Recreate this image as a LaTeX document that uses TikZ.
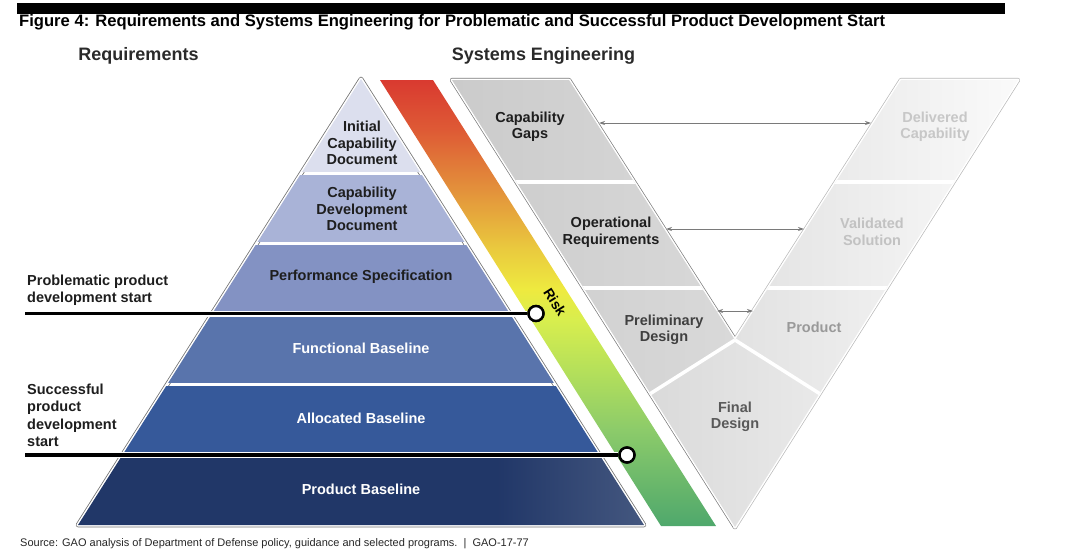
\documentclass[tikz,border=0pt]{standalone}
\usepackage{fontspec}
\setmainfont{Liberation Sans}
\usetikzlibrary{arrows.meta,calc}
\definecolor{lay1}{HTML}{DCDFEE}
\definecolor{lay2}{HTML}{A9B3D7}
\definecolor{lay3}{HTML}{8392C3}
\definecolor{lay4}{HTML}{5974AC}
\definecolor{lay5}{HTML}{36599A}
\definecolor{lay6}{HTML}{213768}
\definecolor{lay6r}{HTML}{44577F}
\definecolor{rk1}{HTML}{4FA86C}
\definecolor{rk2}{HTML}{8CCB6A}
\definecolor{rk3}{HTML}{B5E05A}
\definecolor{rk4}{HTML}{D8EE4E}
\definecolor{rk5}{HTML}{EEEA3F}
\definecolor{rk6}{HTML}{EACB3E}
\definecolor{rk7}{HTML}{E3913B}
\definecolor{rk8}{HTML}{DE5A35}
\definecolor{rk9}{HTML}{D93A30}
\definecolor{armL}{HTML}{CBCBCB}
\definecolor{armLr}{HTML}{D9D9D9}
\definecolor{armR}{HTML}{E2E2E2}
\definecolor{armRr}{HTML}{FAFAFA}
\definecolor{dia}{HTML}{DADADA}
\definecolor{diar}{HTML}{E9E9E9}
\definecolor{darktxt}{HTML}{1E1E1E}
\definecolor{headtxt}{HTML}{2A2A2A}
\pgfdeclareverticalshading{riskshade}{100bp}{color(0bp)=(rk1); color(25bp)=(rk1); color(35.8bp)=(rk2); color(42.5bp)=(rk3); color(48.1bp)=(rk4); color(51.5bp)=(rk5); color(55.9bp)=(rk6); color(62.7bp)=(rk7); color(69.4bp)=(rk8); color(75bp)=(rk9); color(100bp)=(rk9)}
\pgfdeclarehorizontalshading{baseshade}{100bp}{color(0bp)=(lay6); color(25bp)=(lay6); color(62bp)=(lay6); color(75bp)=(lay6r); color(100bp)=(lay6r)}
\begin{document}
\begin{tikzpicture}[x=1pt,y=-1pt,
  lbl/.style={font=\fontsize{14.5}{16.5}\selectfont\bfseries, align=center, inner sep=0pt},
  sidelbl/.style={font=\fontsize{14.5}{17.5}\selectfont\bfseries, align=left, inner sep=0pt, anchor=west, text=darktxt},
  head/.style={font=\fontsize{18}{20}\selectfont\bfseries, inner sep=0pt, text=headtxt},
  startline/.style={line width=3.4pt, black},
  halo/.style={line width=6pt, white},
  startdot/.style={circle, draw=black, line width=2.4pt, fill=white, minimum size=15pt, inner sep=0pt},
  arr/.style={draw=black!52, line width=0.8pt, {Stealth[length=6pt,width=4pt]}-{Stealth[length=6pt,width=4pt]}},
  sep/.style={white, line width=3.5pt}
]
\useasboundingbox (0,0) rectangle (1080,554);

% top bar and title
\fill[black] (17,3) rectangle (1005,14);
\node[font=\fontsize{16.6}{19}\selectfont\bfseries, anchor=west, inner sep=0pt] (title) at (19,22.5)
  {Figure 4: Requirements and Systems Engineering for Problematic and Successful Product Development Start};
\node[head] (hreq) at (138.5,56) {Requirements};
\node[head] (hse) at (543.5,56) {Systems Engineering};

% ---------------- pyramid ----------------
\draw[black!55, line width=4.6pt, line join=round] (361,79) -- (644,525) -- (78,525) -- cycle;
\draw[white, line width=3pt, line join=round] (361,79) -- (644,525) -- (78,525) -- cycle;
\begin{scope}
  \clip (361,79) -- (644,525) -- (78,525) -- cycle;
  \fill[lay1] (60,70) rectangle (660,171.5);
  \fill[lay2] (60,174.5) rectangle (660,241.5);
  \fill[lay3] (60,244.5) rectangle (660,310.5);
  \fill[lay4] (60,316.5) rectangle (660,383);
  \fill[lay5] (60,386) rectangle (660,452);
  \shade[shading=baseshade] (78,458) rectangle (644,526);
\end{scope}
\node[lbl, text=darktxt] (icd) at (362,143) {Initial\\Capability\\Document};
\node[lbl, text=darktxt] (cdd) at (362,209) {Capability\\Development\\Document};
\node[lbl, text=darktxt] (ps) at (361,277) {Performance Specification};
\node[lbl, text=white] (fb) at (361,348) {Functional Baseline};
\node[lbl, text=white] (ab) at (361,418) {Allocated Baseline};
\node[lbl, text=white] (pb) at (361,489) {Product Baseline};

% ---------------- risk band ----------------
\shade[shading=riskshade] (380,80) -- (433,80) -- (716,526) -- (661,526) -- cycle;
\node[font=\fontsize{14}{16}\selectfont\bfseries, rotate=-57.6, inner sep=0pt] (risk) at (555,302) {Risk};

% ---------------- V (systems engineering) ----------------
\coordinate (A) at (452,80);
\coordinate (C) at (569,80);
\coordinate (N) at (735,340);
\coordinate (D) at (901,80);
\coordinate (E) at (1018,80);
\coordinate (B) at (735,527);
\coordinate (P) at (650.5,393.5);
\coordinate (Q) at (819.5,393.5);
% outlines
\draw[black!52, line width=4.4pt, line cap=round, line join=round] (B) -- (A) -- (C) -- (N);
\draw[black!28, line width=4.4pt, line cap=round, line join=round] (N) -- (D) -- (E) -- (B);
\draw[white, line width=3pt, line cap=round, line join=round] (B) -- (A) -- (C) -- (N) -- (D) -- (E) -- cycle;
% fills
\shade[left color=armL, right color=armLr] (A) -- (C) -- (N) -- (P) -- cycle;
\shade[left color=armR, right color=armRr] (N) -- (D) -- (E) -- (Q) -- cycle;
\shade[left color=dia, right color=diar] (N) -- (Q) -- (B) -- (P) -- cycle;
\begin{scope}
  \clip (A) -- (C) -- (N) -- (D) -- (E) -- (B) -- cycle;
  \draw[sep] (440,182) -- (1030,182);
  \draw[sep] (440,288) -- (1030,288);
  \draw[sep] (N) -- ($(N)!1.3!(P)$);
  \draw[sep] (N) -- ($(N)!1.3!(Q)$);
\end{scope}

\node[lbl, text=darktxt] (cg) at (530,127) {Capability\\Gaps};
\node[lbl, text=darktxt] (opr) at (611,232) {Operational\\Requirements};
\node[lbl, text=black!75] (pd) at (664,330) {Preliminary\\Design};
\node[lbl, text=black!65] (fd) at (735,417) {Final\\Design};
\node[lbl, text=black!22] (dcap) at (935,127) {Delivered\\Capability};
\node[lbl, text=black!24] (vs) at (872,232) {Validated\\Solution};
\node[lbl, text=black!40] (prod) at (814,327) {Product};

% arrows between V stages
\coordinate (cgR) at (599,123);
\coordinate (dcL) at (871,123);
\coordinate (orR) at (666,229);
\coordinate (vsL) at (804,229);
\coordinate (pdR) at (717,311);
\coordinate (prL) at (753,311);
\draw[arr] (cgR) -- (dcL);
\draw[arr] (orR) -- (vsL);
\draw[arr] (pdR) -- (prL);

% ---------------- development start lines ----------------
\coordinate (pstart) at (25,313.5);
\coordinate (sstart) at (25,455);
\node[startdot] (pdot) at (536,313.5) {};
\node[startdot] (sdot) at (627,455) {};
\draw[halo] (pstart) -- (pdot.west);
\draw[startline] (pstart) -- (pdot.west);
\draw[halo] (sstart) -- (sdot.west);
\draw[startline] (sstart) -- (sdot.west);
\node[startdot] at (pdot) {};
\node[startdot] at (sdot) {};
\node[sidelbl] (plbl) at (27,290) {Problematic product\\development start};
\node[sidelbl] (slbl) at (27,415.5) {Successful\\product\\development\\start};

% footer
\node[font=\fontsize{11}{13}\selectfont, anchor=west, inner sep=0pt, text=black!85] (src) at (20,544)
  {Source: GAO analysis of Department of Defense policy, guidance and selected programs.\ \ |\ \ GAO-17-77};
\end{tikzpicture}
\end{document}
